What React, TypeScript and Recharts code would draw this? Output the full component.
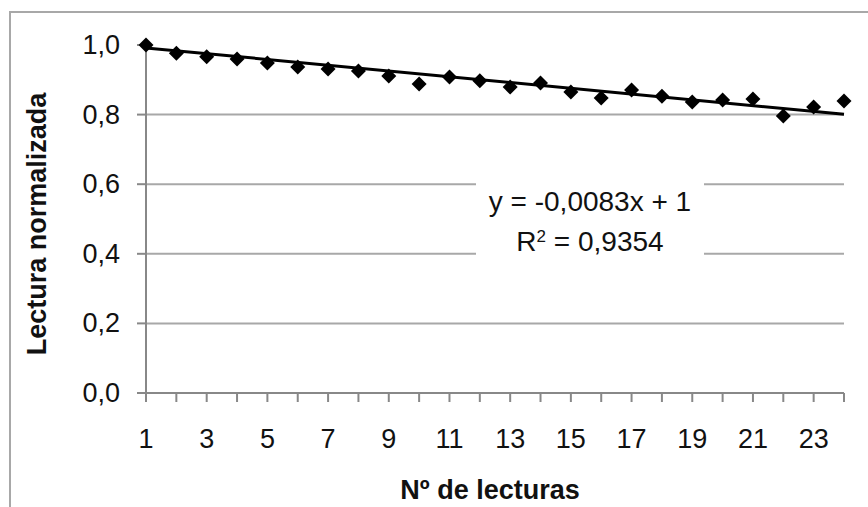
import React from 'react';
import { ComposedChart, Scatter, XAxis, YAxis, ReferenceLine } from 'recharts';

const readingNumbers = [1,2,3,4,5,6,7,8,9,10,11,12,13,14,15,16,17,18,19,20,21,22,23,24];
const normalizedReadings = [1.0,0.976,0.966,0.96,0.948,0.937,0.931,0.925,0.911,0.888,0.908,0.897,0.879,0.891,0.865,0.848,0.871,0.853,0.836,0.842,0.845,0.796,0.822,0.839];
const yTicks = [0, 0.2, 0.4, 0.6, 0.8, 1.0];
const gridValues = [0.2, 0.4, 0.6, 0.8];
const xTicks = readingNumbers;
const trendSlope = -0.0083;
const trendIntercept = 1;
const equationText = 'y = -0,0083x + 1';
const r2Text = '0,9354';

const points = readingNumbers.map((x, i) => ({ x, y: normalizedReadings[i] }));
const trendData = [readingNumbers[0], readingNumbers[readingNumbers.length - 1]].map((x) => ({ x, y: trendSlope * x + trendIntercept }));

const FONT = '"Liberation Sans", Arial, sans-serif';

const Diamond = (props: any) => {
  const { cx, cy } = props;
  if (cx == null || cy == null) return null;
  const r = 7.5;
  return <polygon points={`${cx},${cy - r} ${cx + r},${cy} ${cx},${cy + r} ${cx - r},${cy}`} fill="#000" />;
};

const NoShape = () => null;

const XTick = (props: any) => {
  const { x, y, payload } = props;
  const v = payload.value;
  if (v % 2 === 0) return null;
  return (
    <text x={x} y={y} dy={40} textAnchor="middle" fontFamily={FONT} fontSize={27} fill="#111">
      {v}
    </text>
  );
};

const YTick = (props: any) => {
  const { x, y, payload } = props;
  return (
    <text x={x} y={y} dy={9} textAnchor="end" fontFamily={FONT} fontSize={27} fill="#111">
      {payload.value.toFixed(1).replace('.', ',')}
    </text>
  );
};

const YTitle = () => (
  <text x={46} y={224} transform="rotate(-90 46 224)" textAnchor="middle" fontFamily={FONT} fontWeight="bold" fontSize={27} fill="#111">
    Lectura normalizada
  </text>
);

export default function App() {
  return (
    <div style={{ position: 'absolute', left: 0, top: 0, width: 868, height: 507, background: '#fff', overflow: 'hidden' }}>
      <div style={{ position: 'absolute', left: 9, top: 11, width: 900, height: 600, borderLeft: '2px solid #a8a8a8', borderTop: '2px solid #a8a8a8' }} />
      <div style={{ position: 'absolute', left: 0, top: 0 }}>
        <ComposedChart width={868} height={507} margin={{ top: 45, right: 24, bottom: 0, left: 0 }}>
          <XAxis
            type="number"
            dataKey="x"
            domain={[1, 24]}
            ticks={xTicks}
            interval={0}
            tick={<XTick />}
            tickSize={9}
            tickMargin={6}
            axisLine={{ stroke: '#888', strokeWidth: 2 }}
            tickLine={{ stroke: '#888', strokeWidth: 2 }}
            height={114}
            label={{ value: 'Nº de lecturas', position: 'insideBottom', offset: 8, dx: -5, style: { fontFamily: FONT, fontWeight: 'bold', fontSize: 27, fill: '#111' } }}
          />
          <YAxis
            type="number"
            dataKey="y"
            domain={[0, 1]}
            ticks={yTicks}
            interval={0}
            tick={<YTick />}
            tickSize={9}
            tickMargin={17}
            width={146}
            axisLine={{ stroke: '#888', strokeWidth: 2 }}
            tickLine={{ stroke: '#888', strokeWidth: 2 }}
            label={<YTitle />}
          />
          {gridValues.map((v) => (
            <ReferenceLine key={v} y={v} stroke="#a8a8a8" strokeWidth={2} ifOverflow="visible" />
          ))}
          <Scatter data={trendData} line={{ stroke: '#000', strokeWidth: 3 }} shape={<NoShape />} isAnimationActive={false} />
          <Scatter data={points} shape={<Diamond />} isAnimationActive={false} />
        </ComposedChart>
      </div>
      <div style={{ position: 'absolute', left: 476, top: 182, width: 228, height: 80, background: '#fff', fontFamily: FONT, fontSize: 28, color: '#111', textAlign: 'center', lineHeight: '40px' }}>
        <div style={{ whiteSpace: 'nowrap' }}>{equationText}</div>
        <div style={{ whiteSpace: 'nowrap' }}>R<sup style={{ fontSize: 17, verticalAlign: 'top', lineHeight: '30px' }}>2</sup> = {r2Text}</div>
      </div>
    </div>
  );
}
